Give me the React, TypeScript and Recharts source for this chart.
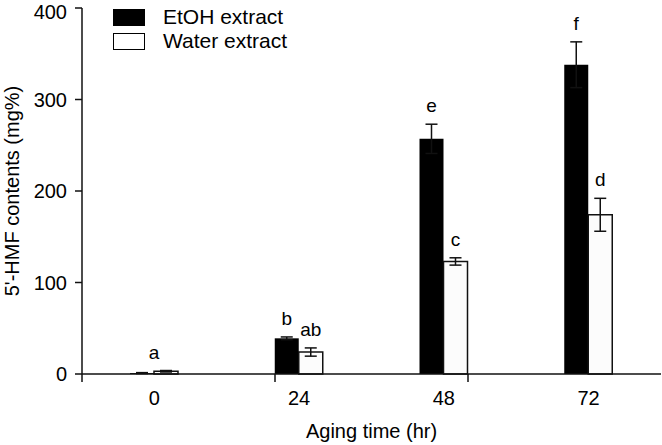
import React from "react";
import {
    BarChart,
    Bar,
    XAxis,
    YAxis,
    ErrorBar,
    LabelList,
    Legend,
    Label,
} from "recharts";

const agingTimes = ["0", "24", "48", "72"];
const etohValues = [1, 39, 257, 338];
const etohErrors = [0.5, 1.5, 16, 25];
const waterValues = [3, 24, 123, 174];
const waterErrors = [0.8, 4.5, 4, 18];
const etohLetters = ["", "b", "e", "f"];
const waterLetters = ["", "ab", "c", "d"];
const groupLetters = ["a", "", "", ""];
const yTicks = [0, 100, 200, 300, 400];
const edgeTicks = [0, 1, 2, 3, 4];

const FONT = '"Liberation Sans", Arial, sans-serif';

const data = agingTimes.map((t, i) => ({
    time: t,
    etoh: etohValues[i],
    etohErr: etohErrors[i],
    water: waterValues[i],
    waterErr: waterErrors[i],
}));

// letter above the error bar of a bar
function makeLetterLabel(values: number[], errors: number[], letters: string[], centered: boolean) {
    return (props: any) => {
        const { x, y, width, height, index } = props;
        const letter = letters[index];
        if (!letter) return null;
        const v = values[index];
        const ppu = v > 0 ? height / v : 0;
        const errTop = y - errors[index] * ppu;
        const cx = centered ? x : x + width / 2;
        return (
            <text x={cx} y={errTop - 12} textAnchor="middle" fontSize={19} fill="#000" fontFamily={FONT}>
                {letter}
            </text>
        );
    };
}

function LegendBox() {
    const rows = [
        { name: "EtOH extract", fill: "#000" },
        { name: "Water extract", fill: "#fff" },
    ];
    return (
        <div style={{ fontFamily: FONT, fontSize: 21, color: "#000" }}>
            {rows.map((r) => (
                <div key={r.name} style={{ display: "flex", alignItems: "center", height: 24 }}>
                    <div
                        style={{
                            width: 30,
                            height: 15,
                            background: r.fill,
                            border: "1px solid #000",
                            marginRight: 18,
                        }}
                    />
                    <span>{r.name}</span>
                </div>
            ))}
        </div>
    );
}

function YTitle(props: any) {
    const { viewBox } = props;
    const cx = 19;
    const cy = viewBox.y + viewBox.height / 2;
    return (
        <text
            x={cx}
            y={cy}
            transform={`rotate(-90 ${cx} ${cy})`}
            textAnchor="middle"
            fontSize={20}
            fill="#000"
            fontFamily={FONT}
        >
            5'-HMF contents (mg%)
        </text>
    );
}

const NoTick = () => <g />;

export default function App() {
    return (
        <div style={{ position: "absolute", left: 0, top: 0, background: "#fff" }}>
            <BarChart
                width={662}
                height={445}
                data={data}
                margin={{ top: 8, right: 1, bottom: 0, left: 0 }}
                barGap={0}
                style={{ fontFamily: FONT }}
            >
                <XAxis
                    xAxisId="cat"
                    dataKey="time"
                    height={63}
                    axisLine={false}
                    tickLine={false}
                    tickSize={0}
                    tickMargin={9}
                    tick={{ fill: "#000", fontSize: 20 }}
                >
                    <Label value="Aging time (hr)" position="insideBottom" offset={7} fill="#000" fontSize={20} />
                </XAxis>
                <XAxis
                    xAxisId="axis"
                    type="number"
                    domain={[0, 4]}
                    ticks={edgeTicks}
                    allowDataOverflow
                    tick={NoTick}
                    tickSize={8}
                    height={8}
                    axisLine={{ stroke: "#111", strokeWidth: 1.5 }}
                    tickLine={{ stroke: "#111", strokeWidth: 1.5 }}
                />
                <YAxis
                    width={82}
                    domain={[0, 400]}
                    ticks={yTicks}
                    tickSize={7}
                    tickMargin={8}
                    tick={{ fill: "#000", fontSize: 20 }}
                    axisLine={{ stroke: "#111", strokeWidth: 1.5 }}
                    tickLine={{ stroke: "#111", strokeWidth: 1.5 }}
                >
                    <Label content={<YTitle />} />
                </YAxis>
                <Legend
                    layout="vertical"
                    align="center"
                    verticalAlign="middle"
                    content={<LegendBox />}
                    wrapperStyle={{ left: 113, top: 5, width: 240, height: 50 }}
                />
                <Bar xAxisId="cat" dataKey="etoh" fill="#000" barSize={24} isAnimationActive={false}>
                    <ErrorBar dataKey="etohErr" width={6} stroke="#111" strokeWidth={1.5} direction="y" />
                    <LabelList dataKey="etoh" content={makeLetterLabel(etohValues, etohErrors, etohLetters, false)} />
                </Bar>
                <Bar xAxisId="cat" dataKey="water" fill="#fcfcfc" stroke="#111" strokeWidth={1.5} barSize={24} isAnimationActive={false}>
                    <ErrorBar dataKey="waterErr" width={6} stroke="#111" strokeWidth={1.5} direction="y" />
                    <LabelList dataKey="water" content={makeLetterLabel(waterValues, waterErrors, waterLetters, false)} />
                    <LabelList dataKey="water" content={makeLetterLabel(waterValues, waterErrors, groupLetters, true)} />
                </Bar>
            </BarChart>
        </div>
    );
}
